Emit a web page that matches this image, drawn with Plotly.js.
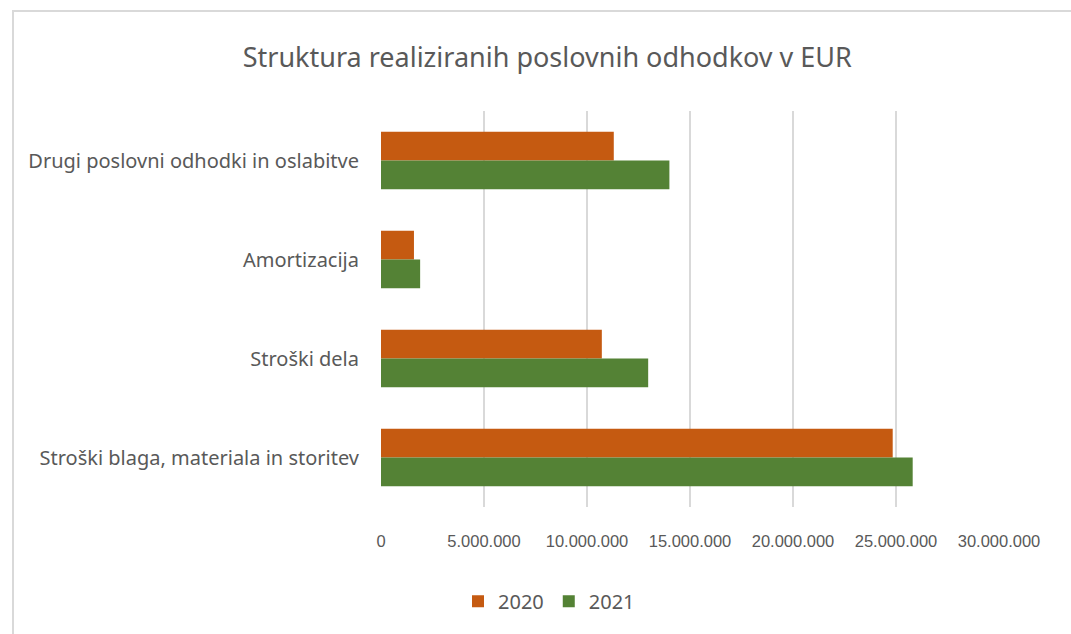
<!DOCTYPE html>
<html>
<head>
<meta charset="utf-8">
<script src="https://cdn.plot.ly/plotly-3.0.1.min.js"></script>
<style>
  html, body { margin: 0; padding: 0; background: #fff; }
  #chart { width: 1071px; height: 634px; }
  #frame { position: absolute; left: 12px; top: 10px; width: 1080px; height: 700px;
           border-left: 2px solid #d9d9d9; border-top: 2px solid #d9d9d9; pointer-events: none; }
</style>
</head>
<body>
<div id="chart"></div>
<div id="frame"></div>
<script>
const categories = [
  'Drugi poslovni odhodki in oslabitve',
  'Amortizacija',
  'Stroški dela',
  'Stroški blaga, materiala in storitev'
];
const values2020 = [11300000, 1600000, 10720000, 24840000];
const values2021 = [14000000, 1900000, 12970000, 25810000];
const seriesNames = ['2020', '2021'];
const tickValues = [0, 5000000, 10000000, 15000000, 20000000, 25000000, 30000000];

const font = 'Noto Sans, Open Sans, sans-serif';
const traces = [
  { type: 'bar', orientation: 'h', name: seriesNames[0], y: categories, x: values2020,
    marker: { color: '#C55A11' }, hoverinfo: 'x+name' },
  { type: 'bar', orientation: 'h', name: seriesNames[1], y: categories, x: values2021,
    marker: { color: '#548235' }, hoverinfo: 'x+name' }
];

const layout = {
  width: 1071, height: 634,
  paper_bgcolor: '#ffffff', plot_bgcolor: '#ffffff',
  separators: ',.',
  margin: { l: 381, r: 72, t: 111, b: 127 },
  title: { text: 'Struktura realiziranih poslovnih odhodkov v EUR',
           font: { family: font, size: 27, color: '#595959' },
           x: 0.511, xref: 'container', xanchor: 'center', y: 0.909, yref: 'container', yanchor: 'middle' },
  barmode: 'group', bargap: 0.42, bargroupgap: 0,
  xaxis: {
    range: [0, 30000000], tickvals: tickValues, tickformat: ',d',
    showgrid: true, gridcolor: '#d9d9d9', gridwidth: 2, zeroline: false,
    showline: false, ticks: 'outside', ticklen: 19, tickcolor: 'rgba(0,0,0,0)',
    tickfont: { family: 'Liberation Sans, Arial, sans-serif', size: 16.5, color: '#595959' },
    fixedrange: true
  },
  yaxis: {
    autorange: 'reversed', showgrid: false, zeroline: false, showline: false,
    ticks: 'outside', ticklen: 17, tickcolor: 'rgba(0,0,0,0)',
    tickfont: { family: font, size: 20, color: '#595959' },
    fixedrange: true
  },
  showlegend: true,
  legend: { orientation: 'h', x: 0.1246, xanchor: 'left', y: -0.238, yanchor: 'middle',
            font: { family: font, size: 20, color: '#595959' }, itemwidth: 30,
            traceorder: 'normal' }
};

Plotly.newPlot('chart', traces, layout, { displayModeBar: false, staticPlot: true });
</script>
</body>
</html>
